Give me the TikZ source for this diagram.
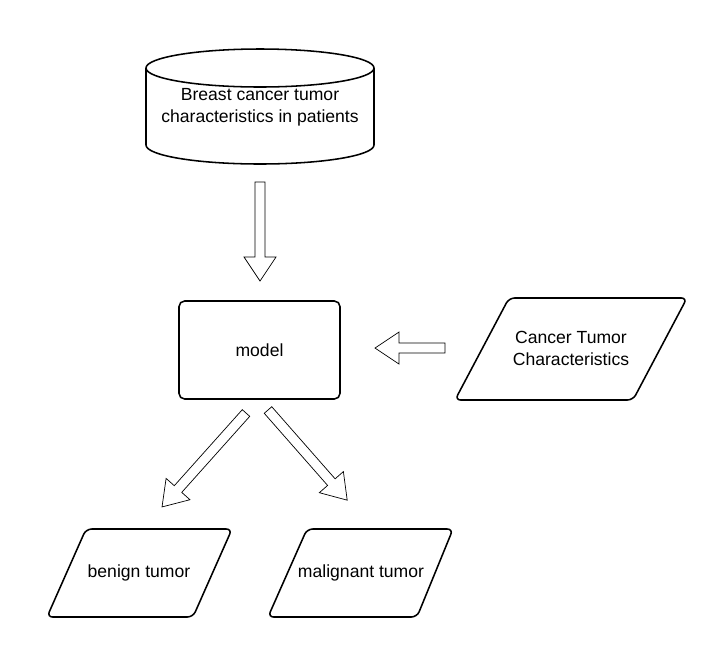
\documentclass[tikz,border=0pt]{standalone}
\usepackage{fontspec}
\setmainfont{Liberation Sans}
\usepackage{tikz}

\tikzset{
  shapeline/.style={line width=1.1pt,rounded corners=4pt},
  label/.style={align=center,font=\fontsize{12.5}{15.6}\selectfont},
  pics/fatarrow/.style={code={
    \draw[line width=0.5pt,line join=miter] (0,-5) -- (#1-24,-5) -- (#1-24,-16) -- (#1,0)
      -- (#1-24,16) -- (#1-24,5) -- (0,5) -- cycle;
  }}
}

\begin{document}
\begin{tikzpicture}[x=0.025cm,y=-0.025cm]

\useasboundingbox (0,0) rectangle (708,660);

% SHAPES

% Database.
\draw[line width=1.1pt] (146,68) -- (146,145) arc[start angle=180,end angle=0,x radius=114,y radius=19] -- (374,68);
\draw[line width=1.1pt] (260,68) ellipse [x radius=114,y radius=19];
\node[label] (data) at (260,107) {Breast cancer tumor\\characteristics in patients};

% Model.
\draw[shapeline] (179,301) rectangle (340,399);
\node[label] (model) at (259.5,350) {model};

% Input.
\draw[shapeline] (509,298) -- (687,298) -- (633,400) -- (455,400) -- cycle;
\node[label] (input) at (571,348) {Cancer Tumor\\Characteristics};

% Outputs.
\draw[shapeline] (86,529) -- (232,529) -- (193,617) -- (47,617) -- cycle;
\node[label] (benign) at (139,573) {benign tumor};
\draw[shapeline] (307,529) -- (453,529) -- (417,617) -- (268,617) -- cycle;
\node[label] (malignant) at (361,573) {malignant tumor};

% ARROWS

% Data -> model.
\pic[rotate=-90] at (260,182) {fatarrow=99};

% Input -> model.
\pic[rotate=180] at (445,348) {fatarrow=70};

% Model -> outputs.
\pic[rotate=-131.8] at (246,413) {fatarrow=126};
\pic[rotate=-48.7] at (268,410) {fatarrow=120};

\end{tikzpicture}
\end{document}
